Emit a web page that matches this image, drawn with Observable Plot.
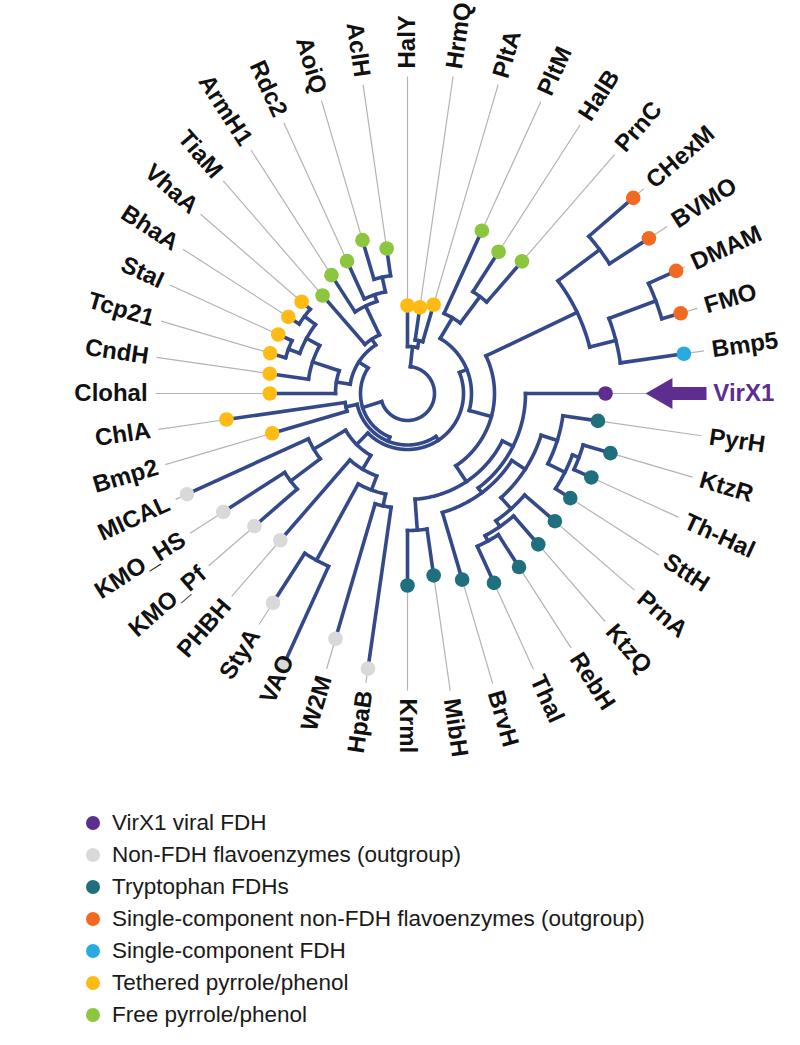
<!DOCTYPE html>
<html><head><meta charset="utf-8">
<script src="https://cdn.jsdelivr.net/npm/d3@7"></script>
<script src="https://cdn.jsdelivr.net/npm/@observablehq/plot@0.6"></script>
<style>
body{margin:0;background:#fff;font-family:"Liberation Sans",Arial,sans-serif;}
#legend{position:relative;margin-top:17px;margin-left:86px;}
.row{display:flex;align-items:center;height:32px;font-size:22.5px;color:#1a1a1a;}
.sw{width:14px;height:14px;border-radius:50%;margin-right:12px;flex:none;}
</style></head><body>
<div id="chart"></div>
<div id="legend"></div>
<script>
// ---------- DATA ----------
const leafNames = ["HalY","HrmQ","PltA","PltM","HalB","PrnC","CHexM","BVMO","DMAM","FMO","Bmp5","VirX1",
  "PyrH","KtzR","Th-Hal","SttH","PrnA","KtzQ","RebH","Thal","BrvH","MibH","Krml",
  "HpaB","W2M","VAO","StyA","PHBH","KMO_Pf","KMO_HS","MICAL",
  "Bmp2","ChlA","Clohal","CndH","Tcp21","StaI","BhaA","VhaA","TiaM","ArmH1","Rdc2","AoiQ","AclH"];
const leafGroups = ["teth","teth","teth","free","free","free","scnon","scnon","scnon","scnon","scfdh","virx",
  "trp","trp","trp","trp","trp","trp","trp","trp","trp","trp","trp",
  "non","non","non","non","non","non","non","non",
  "teth","teth","teth","teth","teth","teth","teth","teth","free","free","free","free","free"];
const leafParents = ["A","A1","A1","GR","GR2","GR2","OC1","OC1","OC3","OC3","OC2","X",
  "T3","T1","T1","T2","T6","T5","T4","T4","S","KM","KM",
  "G4","G4","G3","G3","G6","G1","G1","G2",
  "CB","CB","TL","TL2","YT2","YT2","YT1","YT1","GL","GL2","GL3","GL4","GL4"];
// distance from tree centre (branch length units)
const leafDepths = [0.88,0.87,0.925,1.79,1.685,1.748,2.987,2.87,2.953,2.847,2.792,1.98,
  1.924,2.115,2.021,1.935,1.95,1.997,2.063,2.082,1.94,1.838,1.92,
  2.78,2.556,2.98,2.487,1.942,2.026,2.19,2.424,
  1.41,1.829,1.377,1.391,1.431,1.421,1.416,1.401,1.297,1.407,1.455,1.598,1.465];

const nodeNames   = ["R","A","A1","B","E","E55","C","GR","GR2","N87","OC","OC1","OC2","OC3","N105","X","S","T7","T3","T2","T1","T6","T5","T4","KM",
  "G7","G2","G1","G6","G5","G3","G4","CB","LU","TL","TL2","YT","YT1","YT2","GL","GL2","GL3","GL4"];
const nodeParents = [null,"R","A","R","B","E","E55","C","GR","C","N87","OC","OC","OC2","N87","N105","X","S","T7","T3","T2","T7","T6","T5","N105",
  "E55","G7","G2","G7","G6","G5","G5","E","B","LU","TL","TL2","YT","YT","LU","GL","GL2","GL3"];
const nodeDepths  = [0.27,0.47,0.54,0.47,0.515,0.56,0.64,0.88,1.21,0.87,1.88,2.40,2.15,2.65,1.06,1.18,1.24,1.40,1.57,1.76,1.83,1.55,1.62,1.68,1.37,
  0.72,1.09,1.46,0.88,1.03,1.90,1.15,0.63,0.58,0.72,1.00,1.15,1.287,1.27,0.65,0.97,1.04,1.19];

const groupKeys  = ["virx","non","trp","scnon","scfdh","teth","free"];
const groupNames = ["VirX1 viral FDH","Non-FDH flavoenzymes (outgroup)","Tryptophan FDHs",
  "Single-component non-FDH flavoenzymes (outgroup)","Single-component FDH","Tethered pyrrole/phenol","Free pyrrole/phenol"];

// ---------- STYLE ----------
const groupColors = ["#5d2e8f","#d9d9d9","#1f6f7e","#f26a21","#29abe2","#fdbb13","#8cc63f"];
const BRANCH = "#34498a", LEADER = "#b3b3b3", PURPLE = "#5d2e8f";
const W = 800, H = 790, CX = 407, CY = 393, K = 100;

// ---------- BUILD TREE ----------
const nodes = new Map();
nodeNames.forEach((n,i)=>nodes.set(n,{name:n,parent:nodeParents[i],depth:nodeDepths[i]*K,children:[],leaf:false}));
leafNames.forEach((n,i)=>nodes.set(n,{name:n,parent:leafParents[i],depth:leafDepths[i]*K,children:[],leaf:true,index:i,
  group:groupNames[groupKeys.indexOf(leafGroups[i])]}));
for (const nd of nodes.values()) if (nd.parent) nodes.get(nd.parent).children.push(nd);
const root = nodes.get("R");
const step = 360/leafNames.length;
function setAngle(nd){
  if (nd.leaf){ nd.angle = nd.index*step; return nd.angle; }
  const a = nd.children.map(setAngle);
  nd.lo = Math.min(...a); nd.hi = Math.max(...a); nd.angle = (nd.lo+nd.hi)/2; return nd.angle;
}
setAngle(root);
const rad = d => d*Math.PI/180;
const px = (r,a) => r*Math.sin(rad(a));
const py = (r,a) => -r*Math.cos(rad(a));

const stems = [], arcs = [], leaves = [];
for (const nd of nodes.values()){
  if (nd.parent){
    const p = nodes.get(nd.parent);
    stems.push({x1:px(p.depth,nd.angle),y1:py(p.depth,nd.angle),x2:px(nd.depth,nd.angle),y2:py(nd.depth,nd.angle)});
  }
  if (!nd.leaf){
    for (let a = nd.lo; ; a += 0.5){
      const aa = Math.min(a, nd.hi);
      arcs.push({id:nd.name,x:px(nd.depth,aa),y:py(nd.depth,aa)});
      if (aa >= nd.hi) break;
    }
  } else leaves.push(nd);
}
// label positions on an ellipse around the tree
const ECX = 23, ECY = -10, ERX = 283, ERY = 316;
function labelR(a){
  const s = Math.sin(rad(a)), c = Math.cos(rad(a));
  const A = s*s/(ERX*ERX) + c*c/(ERY*ERY);
  const B = -2*s*ECX/(ERX*ERX) + 2*c*ECY/(ERY*ERY);
  const C = ECX*ECX/(ERX*ERX) + ECY*ECY/(ERY*ERY) - 1;
  return (-B + Math.sqrt(B*B-4*A*C))/(2*A);
}
for (const l of leaves){
  l.x = px(l.depth,l.angle); l.y = py(l.depth,l.angle);
  l.lr = labelR(l.angle);
  l.lx = px(l.lr,l.angle); l.ly = py(l.lr,l.angle);
  l.right = l.angle <= 180;
  l.rot = l.right ? l.angle-90 : l.angle+90;
}
const leaders = leaves.filter(l=>l.name!=="VirX1").map(l=>({x1:l.x,y1:l.y,x2:px(l.lr-8,l.angle),y2:py(l.lr-8,l.angle)}));
const vir = leaves.find(l=>l.name==="VirX1");
const virLeader = [{x1:vir.x,y1:vir.y,x2:px(244,vir.angle),y2:py(244,vir.angle)}];
const shaft = [{x1:px(263,vir.angle),y1:py(263,vir.angle),x2:px(299,vir.angle),y2:py(299,vir.angle)}];
const head = [{x:px(256,vir.angle),y:py(256,vir.angle)}];

const labelOpts = {x:"lx",y:"ly",text:"name",rotate:"rot",fontSize:24,fontWeight:"bold",fill:d=>d.name==="VirX1"?PURPLE:"#111"};

const chart = Plot.plot({
  width:W, height:H, margin:0,
  x:{domain:[-CX,W-CX],range:[0,W],axis:null},
  y:{domain:[-CY,H-CY],range:[0,H],axis:null},
  color:{type:"ordinal",domain:groupNames,range:groupColors},
  style:{fontFamily:"'Liberation Sans', Arial, sans-serif",background:"#fff",overflow:"visible"},
  marks:[
    Plot.link(leaders,{x1:"x1",y1:"y1",x2:"x2",y2:"y2",stroke:LEADER,strokeWidth:1.2}),
    Plot.link(virLeader,{x1:"x1",y1:"y1",x2:"x2",y2:"y2",stroke:LEADER,strokeWidth:1.2}),
    Plot.line(arcs,{x:"x",y:"y",z:"id",stroke:BRANCH,strokeWidth:3.6,strokeLinecap:"square",curve:"linear"}),
    Plot.link(stems,{x1:"x1",y1:"y1",x2:"x2",y2:"y2",stroke:BRANCH,strokeWidth:3.6,strokeLinecap:"square"}),
    Plot.dot(leaves,{x:"x",y:"y",r:7.3,fill:"group",stroke:"none"}),
    Plot.text(leaves.filter(l=>l.right),{...labelOpts,textAnchor:"start"}),
    Plot.text(leaves.filter(l=>!l.right),{...labelOpts,textAnchor:"end"}),
    Plot.link(shaft,{x1:"x1",y1:"y1",x2:"x2",y2:"y2",stroke:PURPLE,strokeWidth:13}),
    Plot.dot(head,{x:"x",y:"y",symbol:"triangle",r:11.5,rotate:-90,fill:PURPLE,stroke:"none"})
  ]
});
document.getElementById("chart").appendChild(chart);

const lg = document.getElementById("legend");
groupNames.forEach((g,i)=>{
  const row = document.createElement("div"); row.className="row";
  const sw = document.createElement("span"); sw.className="sw"; sw.style.background=groupColors[i];
  const tx = document.createElement("span"); tx.textContent=g;
  row.appendChild(sw); row.appendChild(tx); lg.appendChild(row);
});
</script></body></html>
